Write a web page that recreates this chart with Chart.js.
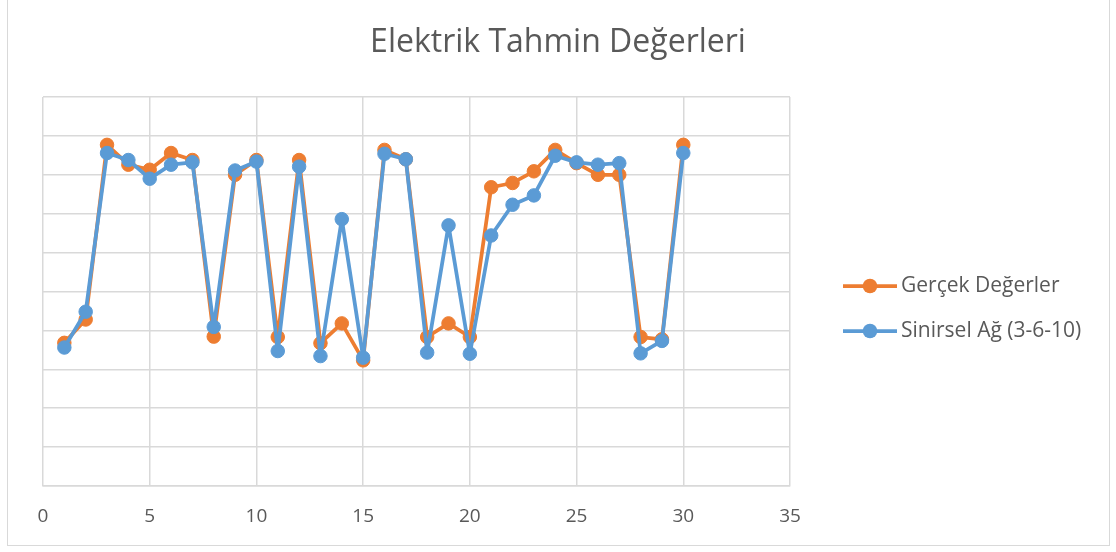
<!DOCTYPE html>
<html>
<head>
<meta charset="utf-8">
<script src="https://cdn.jsdelivr.net/npm/chart.js@4.4.0/dist/chart.umd.min.js"></script>
<style>
  html, body { margin: 0; padding: 0; background: #fff; }
  #wrap { position: relative; width: 1116px; height: 552px; overflow: hidden; }
  #frame { position: absolute; left: 7px; top: -3px; width: 1103px; height: 549px; border: 1.5px solid #d9d9d9; box-sizing: border-box; }
  canvas { position: absolute; left: 0; top: 0; }
</style>
</head>
<body>
<div id="wrap">
  <div id="frame"></div>
  <canvas id="chart0" width="1116" height="552"></canvas>
</div>
<script>
// values
const x_values = [1, 2, 3, 4, 5, 6, 7, 8, 9, 10, 11, 12, 13, 14, 15, 16, 17, 18, 19, 20, 21, 22, 23, 24, 25, 26, 27, 28, 29, 30];
const gercek = [3.68, 4.28, 8.77, 8.26, 8.13, 8.56, 8.38, 3.84, 8.0, 8.38, 3.83, 8.38, 3.67, 4.18, 3.23, 8.64, 8.40, 3.83, 4.18, 3.83, 7.68, 7.79, 8.09, 8.64, 8.30, 8.0, 8.0, 3.83, 3.77, 8.77];
const sinirsel = [3.56, 4.48, 8.56, 8.38, 7.90, 8.26, 8.32, 4.09, 8.11, 8.34, 3.47, 8.21, 3.34, 6.86, 3.30, 8.54, 8.40, 3.43, 6.70, 3.40, 6.44, 7.23, 7.47, 8.49, 8.32, 8.26, 8.30, 3.41, 3.73, 8.56];
const series_names = ["Gerçek Değerler", "Sinirsel Ağ (3-6-10)"];
const series_colours = ["#ED7D31", "#5B9BD5"];
const chart_title = "Elektrik Tahmin Değerleri";

const font_family = "'Open Sans', 'Noto Sans', sans-serif";
const text_colour = "#595959";
const grid_colour = "#d9d9d9";

function to_points(ys) {
  return x_values.map((x, i) => ({ x: x, y: ys[i] }));
}

function make_dataset(name, ys, colour, order) {
  return {
    label: name,
    data: to_points(ys),
    borderColor: colour,
    backgroundColor: colour,
    borderWidth: 3.75,
    borderJoinStyle: "round",
    borderCapStyle: "round",
    pointRadius: 6.75,
    pointBorderWidth: 1,
    pointBorderColor: colour,
    pointBackgroundColor: colour,
    showLine: true,
    tension: 0,
    order: order,
  };
}

// title and legend drawn at fixed spots, like the excel layout
const title_legend = {
  id: "title_legend",
  afterDraw(chart) {
    const ctx = chart.ctx;
    ctx.save();
    ctx.fillStyle = text_colour;
    ctx.font = "32px " + font_family;
    ctx.textAlign = "center";
    ctx.textBaseline = "middle";
    ctx.fillText(chart_title, chart.width / 2, 43);

    const items_y = [286, 331];
    series_names.forEach((name, i) => {
      const y = items_y[i];
      ctx.strokeStyle = series_colours[i];
      ctx.lineWidth = 3.75;
      ctx.beginPath();
      ctx.moveTo(843, y);
      ctx.lineTo(897, y);
      ctx.stroke();
      ctx.fillStyle = series_colours[i];
      ctx.beginPath();
      ctx.arc(870, y, 7.25, 0, Math.PI * 2);
      ctx.fill();
      ctx.fillStyle = text_colour;
      ctx.font = "21px " + font_family;
      ctx.textAlign = "left";
      ctx.fillText(name, 901, y);
    });
    ctx.restore();
  },
};

const ctx = document.getElementById("chart0");
const my_chart = new Chart(ctx, {
  type: "scatter",
  data: {
    datasets: [
      make_dataset(series_names[0], gercek, series_colours[0], 2),
      make_dataset(series_names[1], sinirsel, series_colours[1], 1),
    ],
  },
  options: {
    responsive: false,
    animation: false,
    layout: { padding: { left: 43, right: 326, top: 97, bottom: 24 } },
    plugins: {
      legend: { display: false },
      title: { display: false },
      tooltip: { enabled: false },
    },
    scales: {
      x: {
        type: "linear",
        min: 0,
        max: 35,
        ticks: { stepSize: 5, color: text_colour, font: { size: 19, family: font_family }, padding: 19 },
        grid: { color: grid_colour, lineWidth: 1.5, drawTicks: false },
        border: { color: grid_colour, width: 1.5 },
        afterFit(scale) { scale.height = 42; },
      },
      y: {
        min: 0,
        max: 10,
        ticks: { stepSize: 1, display: false },
        grid: { color: grid_colour, lineWidth: 1.5, drawTicks: false },
        border: { display: false },
      },
    },
  },
  plugins: [title_legend],
});
</script>
</body>
</html>
